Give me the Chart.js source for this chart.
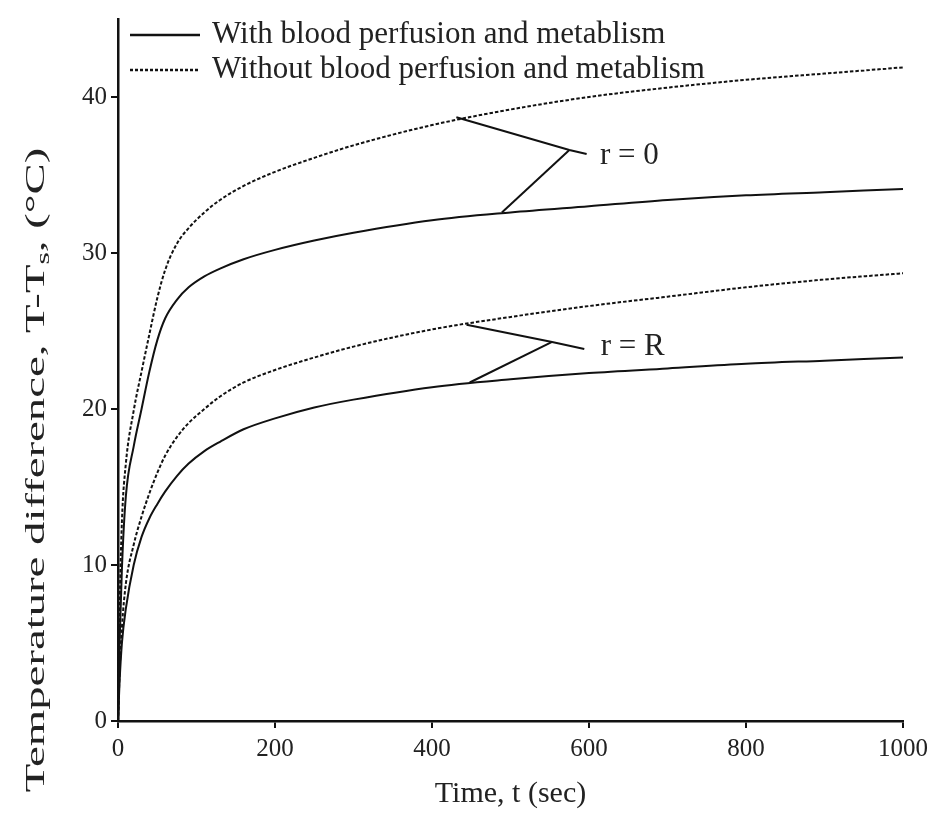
<!DOCTYPE html>
<html><head><meta charset="utf-8">
<script src="https://cdn.jsdelivr.net/npm/chart.js@4.4.1/dist/chart.umd.min.js"></script>
<style>html,body{margin:0;padding:0;background:#fff;}canvas{display:block;}</style>
</head><body>
<canvas id="c" width="934" height="822"></canvas>
<script>
// ---- data ----
const times      = [0, 2, 5, 10, 20, 30, 40, 50, 60, 75, 90, 110, 130, 160, 200, 250, 300, 400, 500, 600, 700, 800, 900, 1000];
const withoutR0  = [0, 7, 12.8, 16.5, 19.9, 22.4, 24.8, 27.1, 28.9, 30.6, 31.6, 32.6, 33.4, 34.3, 35.2, 36.1, 36.9, 38.2, 39.2, 40.0, 40.6, 41.1, 41.5, 41.9];
const withR0     = [0, 5, 9.8, 14.4, 17.6, 20.0, 22.4, 24.4, 25.8, 27.0, 27.8, 28.5, 29.0, 29.6, 30.2, 30.8, 31.3, 32.1, 32.6, 33.0, 33.4, 33.7, 33.9, 34.1];
const withoutRR  = [0, 3, 6, 8.8, 11.3, 13.1, 14.6, 15.9, 17.0, 18.2, 19.1, 20.0, 20.8, 21.7, 22.5, 23.3, 24.0, 25.1, 25.9, 26.6, 27.2, 27.8, 28.3, 28.7];
const withRR     = [0, 2.5, 5, 7.2, 10.0, 11.8, 13.0, 13.9, 14.7, 15.7, 16.5, 17.3, 17.9, 18.7, 19.4, 20.1, 20.6, 21.4, 21.9, 22.3, 22.6, 22.9, 23.1, 23.3];
const xTicks = [0, 200, 400, 600, 800, 1000];
const yTicks = [0, 10, 20, 30, 40];
const legendLabels = ['With blood perfusion and metablism', 'Without blood perfusion and metablism'];
// leader lines (data coordinates)
const leaderR0a = [[431, 38.7], [575, 36.6], [597, 36.35]];
const leaderR0b = [[575, 36.6], [489, 32.6]];
const leaderRRa = [[444, 25.4], [553, 24.3], [594, 23.85]];
const leaderRRb = [[553, 24.3], [448, 21.7]];
const noteTexts = ['r = 0', 'r = R'];
const noteX = [614, 615];
const noteY = [36.2, 24.0];

const pts = (xs, ys) => xs.map((x, i) => ({x: x, y: ys[i]}));
const lp = arr => arr.map(p => ({x: p[0], y: p[1]}));

const INK = '#111';
const SERIF = '"Liberation Serif", "DejaVu Serif", serif';

function curve(data, dashed) {
  return {data: data, borderColor: INK, borderWidth: 2, borderDash: dashed ? [3.5, 2] : [],
    pointRadius: 0, fill: false, cubicInterpolationMode: 'monotone', clip: false};
}
function leader(data) {
  return {data: data, borderColor: INK, borderWidth: 2, pointRadius: 0, fill: false, tension: 0, clip: false};
}

const legendPlugin = {
  id: 'customLegend',
  afterDraw(chart) {
    const ctx = chart.ctx, a = chart.chartArea;
    ctx.save();
    legendLabels.forEach((lab, i) => {
      const y = a.top + 16 + i * 35;
      ctx.beginPath();
      ctx.setLineDash(i ? [3, 2] : []);
      ctx.lineWidth = 2.5; ctx.strokeStyle = INK;
      ctx.moveTo(a.left + 12, y); ctx.lineTo(a.left + 82, y); ctx.stroke();
      ctx.setLineDash([]);
      ctx.fillStyle = '#222'; ctx.font = '31px ' + SERIF; ctx.textBaseline = 'middle'; ctx.textAlign = 'left';
      ctx.fillText(lab, a.left + 94, y);
    });
    // notes
    const xs = chart.scales.x, ys = chart.scales.y;
    noteTexts.forEach((t, i) => {
      ctx.fillStyle = '#222'; ctx.font = '31px ' + SERIF; ctx.textBaseline = 'middle'; ctx.textAlign = 'left';
      ctx.fillText(t, xs.getPixelForValue(noteX[i]), ys.getPixelForValue(noteY[i]));
    });
    // y-axis title with subscript
    const main = 'Temperature difference, T-T', sub = 's', tail = ', (°C)';
    ctx.font = '28px ' + SERIF;
    const w1 = ctx.measureText(main).width, w3 = ctx.measureText(tail).width;
    ctx.font = '19px ' + SERIF;
    const w2 = ctx.measureText(sub).width;
    const total = w1 + w2 + w3;
    ctx.translate(37, 470);
    ctx.rotate(-Math.PI / 2);
    ctx.scale(1.67, 1);
    ctx.textAlign = 'left'; ctx.textBaseline = 'middle'; ctx.fillStyle = '#222';
    let x0 = -total / 2;
    ctx.font = '28px ' + SERIF; ctx.fillText(main, x0, 0);
    ctx.font = '19px ' + SERIF; ctx.fillText(sub, x0 + w1, 7);
    ctx.font = '28px ' + SERIF; ctx.fillText(tail, x0 + w1 + w2, 0);
    ctx.restore();
  }
};

new Chart(document.getElementById('c').getContext('2d'), {
  type: 'line',
  data: {datasets: [
    curve(pts(times, withR0), false),
    curve(pts(times, withoutR0), true),
    curve(pts(times, withRR), false),
    curve(pts(times, withoutRR), true),
    leader(lp(leaderR0a)), leader(lp(leaderR0b)),
    leader(lp(leaderRRa)), leader(lp(leaderRRb))
  ]},
  options: {
    responsive: false, animation: false, devicePixelRatio: 1,
    layout: {padding: {left: 0, top: 17, right: 30, bottom: 0}},
    plugins: {legend: {display: false}, tooltip: {enabled: false}},
    scales: {
      x: {
        type: 'linear', min: 0, max: 1000,
        afterBuildTicks: s => { s.ticks = xTicks.map(v => ({value: v})); },
        afterFit: s => { s.height = 101; },
        grid: {display: true, drawOnChartArea: false, drawTicks: true, tickLength: 7, color: INK, lineWidth: 2},
        border: {display: true, color: INK, width: 2.5},
        ticks: {color: '#222', font: {family: SERIF, size: 25}, padding: 6, maxRotation: 0, autoSkip: false,
          callback: v => String(v)},
        title: {display: true, text: 'Time, t (sec)', color: '#222', font: {family: SERIF, size: 30}, padding: {top: 4, bottom: 10}}
      },
      y: {
        type: 'linear', min: 0, max: 45,
        afterBuildTicks: s => { s.ticks = yTicks.map(v => ({value: v})); },
        afterFit: s => { s.width = 118; },
        grid: {display: true, drawOnChartArea: false, drawTicks: true, tickLength: 7, color: INK, lineWidth: 2},
        border: {display: true, color: INK, width: 2.5},
        ticks: {color: '#222', font: {family: SERIF, size: 25}, padding: 4, callback: v => String(v)}
      }
    }
  },
  plugins: [legendPlugin]
});
</script>
</body></html>
